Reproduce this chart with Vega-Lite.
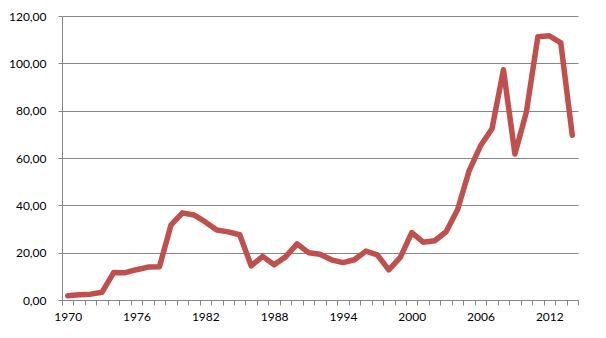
{
  "$schema": "https://vega.github.io/schema/vega-lite/v6.json",
  "width": 516,
  "height": 284,
  "autosize": "none",
  "padding": {"left": 62, "top": 16, "right": 28, "bottom": 38},
  "background": "white",
  "config": {"view": {"stroke": null}, "font": "Lato"},
  "data": {"values": [
    {"year": "1970", "price": 1.8},
    {"year": "1971", "price": 2.24},
    {"year": "1972", "price": 2.48},
    {"year": "1973", "price": 3.29},
    {"year": "1974", "price": 11.58},
    {"year": "1975", "price": 11.53},
    {"year": "1976", "price": 12.8},
    {"year": "1977", "price": 13.92},
    {"year": "1978", "price": 14.02},
    {"year": "1979", "price": 31.61},
    {"year": "1980", "price": 36.83},
    {"year": "1981", "price": 35.93},
    {"year": "1982", "price": 32.97},
    {"year": "1983", "price": 29.55},
    {"year": "1984", "price": 28.78},
    {"year": "1985", "price": 27.56},
    {"year": "1986", "price": 14.43},
    {"year": "1987", "price": 18.44},
    {"year": "1988", "price": 14.92},
    {"year": "1989", "price": 18.23},
    {"year": "1990", "price": 23.73},
    {"year": "1991", "price": 20.0},
    {"year": "1992", "price": 19.32},
    {"year": "1993", "price": 16.97},
    {"year": "1994", "price": 15.82},
    {"year": "1995", "price": 17.02},
    {"year": "1996", "price": 20.67},
    {"year": "1997", "price": 19.09},
    {"year": "1998", "price": 12.72},
    {"year": "1999", "price": 17.97},
    {"year": "2000", "price": 28.5},
    {"year": "2001", "price": 24.44},
    {"year": "2002", "price": 25.02},
    {"year": "2003", "price": 28.83},
    {"year": "2004", "price": 38.27},
    {"year": "2005", "price": 54.52},
    {"year": "2006", "price": 65.14},
    {"year": "2007", "price": 72.39},
    {"year": "2008", "price": 97.26},
    {"year": "2009", "price": 61.67},
    {"year": "2010", "price": 79.5},
    {"year": "2011", "price": 111.26},
    {"year": "2012", "price": 111.67},
    {"year": "2013", "price": 108.66},
    {"year": "2014", "price": 69.6}
  ]},
  "mark": {"type": "line", "color": "#C0504D", "strokeWidth": 5.5, "strokeJoin": "round", "strokeCap": "round"},
  "encoding": {
    "x": {
      "field": "year", "type": "ordinal",
      "scale": {"type": "band", "paddingInner": 0, "paddingOuter": 0},
      "axis": {
        "title": null, "labelAngle": 0, "tickBand": "extent",
        "labelExpr": "(+datum.value - 1970) % 6 == 0 ? datum.value : ''",
        "domainColor": "#868686", "tickColor": "#868686", "tickSize": 5,
        "labelFont": "Lato", "labelFontSize": 12, "labelColor": "#000000",
        "labelPadding": 6, "grid": false, "labelOverlap": false
      }
    },
    "y": {
      "field": "price", "type": "quantitative",
      "scale": {"domain": [0, 120], "nice": false},
      "axis": {
        "title": null, "values": [0, 20, 40, 60, 80, 100, 120],
        "labelExpr": "replace(format(datum.value, '.2f'), '.', ',')",
        "gridColor": "#868686", "domainColor": "#868686", "tickColor": "#868686",
        "tickSize": 4, "labelPadding": 12,
        "labelFont": "Lato", "labelFontSize": 12, "labelColor": "#000000"
      }
    }
  }
}
